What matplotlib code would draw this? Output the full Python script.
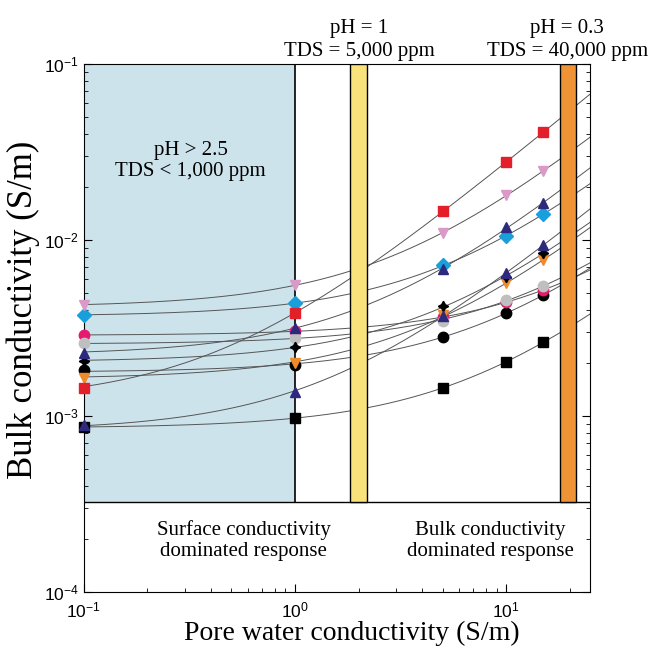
import numpy as np
import matplotlib
matplotlib.use("Agg")
import matplotlib.pyplot as plt
from matplotlib.patches import Rectangle

plt.rcParams['font.family'] = ['Liberation Sans', 'DejaVu Sans']
plt.rcParams['mathtext.default'] = 'regular'
serif = 'Liberation Serif'

# pore water conductivity (S/m) of the measured samples
x = [0.1, 1, 5, 10, 15]

# bulk conductivity (S/m) for each sample
red_sq     = [1.44e-3, 3.85e-3, 1.46e-2, 2.77e-2, 4.11e-2]
pink_tri   = [4.27e-3, 5.55e-3, 1.10e-2, 1.80e-2, 2.47e-2]
navy_tri1  = [2.28e-3, 3.16e-3, 6.85e-3, 1.19e-2, 1.62e-2]
cyan_dia   = [3.75e-3, 4.39e-3, 7.20e-3, 1.05e-2, 1.41e-2]
navy_tri2  = [8.9e-4, 1.37e-3, 3.70e-3, 6.50e-3, 9.37e-3]
black_x    = [2.05e-3, 2.47e-3, 4.22e-3, 6.17e-3, 8.44e-3]
orange_tri = [1.64e-3, 2.00e-3, 3.75e-3, 5.70e-3, 7.70e-3]
magenta_c  = [2.88e-3, 3.04e-3, 3.65e-3, 4.45e-3, 5.20e-3]
gray_c     = [2.60e-3, 2.78e-3, 3.47e-3, 4.56e-3, 5.48e-3]
black_c    = [1.82e-3, 1.95e-3, 2.81e-3, 3.85e-3, 4.87e-3]
black_sq   = [8.7e-4, 9.75e-4, 1.44e-3, 2.03e-3, 2.63e-3]

series = [
    (black_sq, 's', 'black'),
    (black_c, 'o', 'black'),
    (magenta_c, 'o', '#e5196d'),
    (gray_c, 'o', '#bfbfbf'),
    (orange_tri, 'v', '#ef8a2b'),
    (black_x, (4, 1, 0), 'black'),
    (navy_tri2, '^', '#2d2a7e'),
    (cyan_dia, 'D', '#199fdc'),
    (navy_tri1, '^', '#2d2a7e'),
    (pink_tri, 'v', '#d99ac8'),
    (red_sq, 's', '#e3202a'),
]

fig = plt.figure(figsize=(6.5, 6.48), dpi=100)
ax = fig.add_axes([0.129, 0.0864, 0.779, 0.8146])
ax.set_xscale('log')
ax.set_yscale('log')
ax.set_xlim(0.1, 25)
ax.set_ylim(1e-4, 1e-1)

ybot = 3.25e-4
# shaded / highlighted regions
ax.add_patch(Rectangle((0.1, ybot), 0.9, 0.1 - ybot, facecolor='#cde3ec',
                       edgecolor='none', zorder=0))
ax.plot([1, 1], [ybot, 0.1], color='black', lw=1.2, zorder=1)
ax.axhline(ybot, color='black', lw=1.0, zorder=1)
ax.add_patch(Rectangle((1.83, ybot), 2.2 - 1.83, 0.1 - ybot, facecolor='#f9e27a',
                       edgecolor='black', lw=1.0, zorder=3))
ax.add_patch(Rectangle((17.9, ybot), 21.5 - 17.9, 0.1 - ybot, facecolor='#ee9336',
                       edgecolor='black', lw=1.0, zorder=3))

xf = np.geomspace(0.1, 25, 200)
for y, m, c in series:
    a, b = np.polyfit(x, y, 1)
    ax.plot(xf, a * xf + b, color='#555555', lw=0.7, zorder=2)
for y, m, c in series:
    ax.plot(x, y, linestyle='none', marker=m, color=c, markersize=7.5,
            markeredgecolor=c, zorder=4, clip_on=False)

ax.tick_params(which='both', direction='in', right=True, top=False, labelsize=12.5)
ax.tick_params(which='major', length=6)
ax.tick_params(which='minor', length=3)
ax.tick_params(axis='x', pad=6)
ax.yaxis.set_minor_formatter(matplotlib.ticker.NullFormatter())
ax.xaxis.set_minor_formatter(matplotlib.ticker.NullFormatter())

ax.set_xlabel('Pore water conductivity (S/m)', fontsize=20, family=serif)
ax.set_ylabel('Bulk conductivity (S/m)', fontsize=25, family=serif)
ax.xaxis.set_label_coords(0.53, -0.055)
ax.yaxis.set_label_coords(-0.086, 0.534)

ax.text(0.32, 0.028, 'pH > 2.5\nTDS < 1,000 ppm', ha='center', va='center',
        fontsize=15, family=serif, linespacing=1.15)
ax.text(0.57, 1.95e-4, 'Surface conductivity\ndominated response', ha='center',
        va='center', fontsize=15, family=serif, linespacing=1.15)
ax.text(8.4, 1.95e-4, 'Bulk conductivity\ndominated response', ha='center',
        va='center', fontsize=15, family=serif, linespacing=1.15)
ax.text(2.02, 0.104, 'pH = 1\nTDS = 5,000 ppm', ha='center', va='bottom',
        fontsize=15, family=serif, linespacing=1.3)
ax.text(19.5, 0.104, 'pH = 0.3\nTDS = 40,000 ppm', ha='center', va='bottom',
        fontsize=15, family=serif, linespacing=1.3)

plt.savefig('out.png', dpi=100)
